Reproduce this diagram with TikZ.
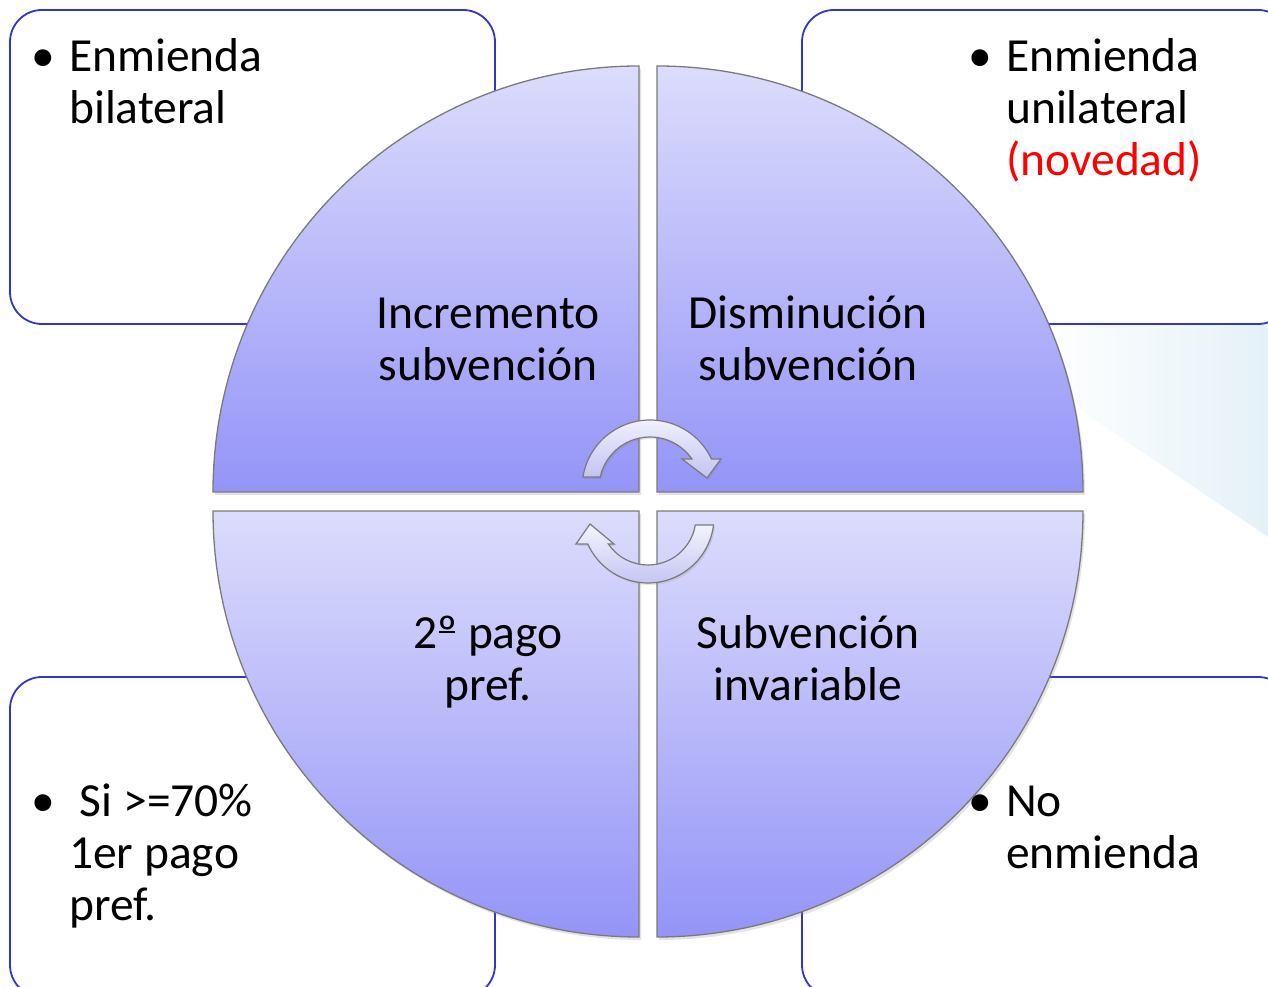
\documentclass[tikz,border=0pt]{standalone}
\usepackage{fontspec}
\setmainfont{Carlito}
\usetikzlibrary{shadows}
\definecolor{qlight}{HTML}{DCDCFC}
\definecolor{qdark}{HTML}{9494F8}
\definecolor{boxblue}{HTML}{3535C8}
\definecolor{arrlight}{HTML}{F4F4FE}
\definecolor{arrdark}{HTML}{C2C2F2}
\definecolor{bgblue}{HTML}{E4F1F8}
\definecolor{edgegray}{HTML}{7A7A7A}
\newcommand\linesl[1]{\begin{tabular}[t]{@{}l@{}}#1\end{tabular}}
\newcommand\linesc[1]{\begin{tabular}[t]{@{}c@{}}#1\end{tabular}}
\newcommand\ordo{\setbox0\hbox{º}\rlap{º}\hbox to\wd0{\hss\rule[0.33em]{0.8\wd0}{0.045em}\hss}}
\begin{document}
\begin{tikzpicture}[x=1pt,y=1pt,
  infobox/.style={draw=boxblue, line width=1.8pt, rounded corners=32pt},
  quad/.style={top color=qlight, bottom color=qdark, draw=edgegray, line width=1.3pt,
    drop shadow={shadow xshift=2pt, shadow yshift=-3pt, opacity=0.22}},
  cyc/.style={top color=arrlight, bottom color=arrdark, draw=edgegray, line width=1.2pt,
    drop shadow={shadow xshift=1.5pt, shadow yshift=-2pt, opacity=0.2}},
  txt/.style={inner sep=0pt, font=\fontsize{47.5}{52}\selectfont, text=black},
  bul/.style={txt, anchor=base},
  lefttxt/.style={txt, anchor=base west},
  midtxt/.style={txt, anchor=base}
]
\useasboundingbox (0,0) rectangle (1268,987);
\clip (0,0) rectangle (1268,987);
\fill[white] (0,0) rectangle (1268,987);

% faint background wedge
\shade[left color=white, right color=bgblue] (1040,663) -- (1268,663) -- (1268,450) -- (1080,577) -- cycle;

% information boxes
\draw[infobox] (10,663) rectangle (495,977);
\draw[infobox] (802,663) rectangle (1290,977);
\draw[infobox] (10,-10) rectangle (495,310);
\draw[infobox] (802,-10) rectangle (1290,310);

% quadrants
\path[quad] (639,495) -- (213,495) arc[start angle=180, end angle=90, radius=426] -- cycle;
\path[quad] (657,495) -- (657,921) arc[start angle=90, end angle=0, radius=426] -- cycle;
\path[quad] (639,476) -- (213,476) arc[start angle=180, end angle=270, radius=426] -- cycle;
\path[quad] (657,476) -- (1083,476) arc[start angle=0, end angle=-90, radius=426] -- cycle;

% circular arrows
\coordinate (c1) at (650,499);
\coordinate (c2) at (648,470);
\path[cyc] ([shift={(170.7:68)}]c1) arc[start angle=170.7, end angle=25.2, radius=68]
  -- (721,528) -- (707,509) -- (682,528)
  -- ([shift={(34.7:51)}]c1) arc[start angle=34.7, end angle=167.5, radius=51] -- cycle;
\path[cyc] ([shift={(-7:66)}]c2) arc[start angle=-7, end angle=-155.9, radius=66]
  -- (576,443) -- (590,463) -- (614,443)
  -- ([shift={(-145.8:48)}]c2) arc[start angle=-145.8, end angle=-9.6, radius=48] -- cycle;

% texts in the circle
\node[midtxt] (inc) at (488,658) {\linesc{Incremento\\subvención}};
\node[midtxt] (dis) at (808,658) {\linesc{Disminución\\subvención}};
\node[midtxt] (pago) at (488,338) {\linesc{2\ordo{} pago\\pref.}};
\node[midtxt] (inv) at (808,338) {\linesc{Subvención\\invariable}};

% texts in the boxes
\node[bul] (b1) at (43,915) {•};
\node[lefttxt] (t1) at (69,915) {\linesl{Enmienda\\bilateral}};
\node[bul] (b2) at (980,915) {•};
\node[lefttxt] (t2) at (1006,915) {\linesl{Enmienda\\unilateral\\\textcolor{red}{(novedad)}}};
\node[bul] (b3) at (43,170) {•};
\node[lefttxt] (t3) at (69,170) {\linesl{~Si >=70\%\\1er pago\\pref.}};
\node[bul] (b4) at (980,170) {•};
\node[lefttxt] (t4) at (1006,170) {\linesl{No\\enmienda}};
\end{tikzpicture}
\end{document}
